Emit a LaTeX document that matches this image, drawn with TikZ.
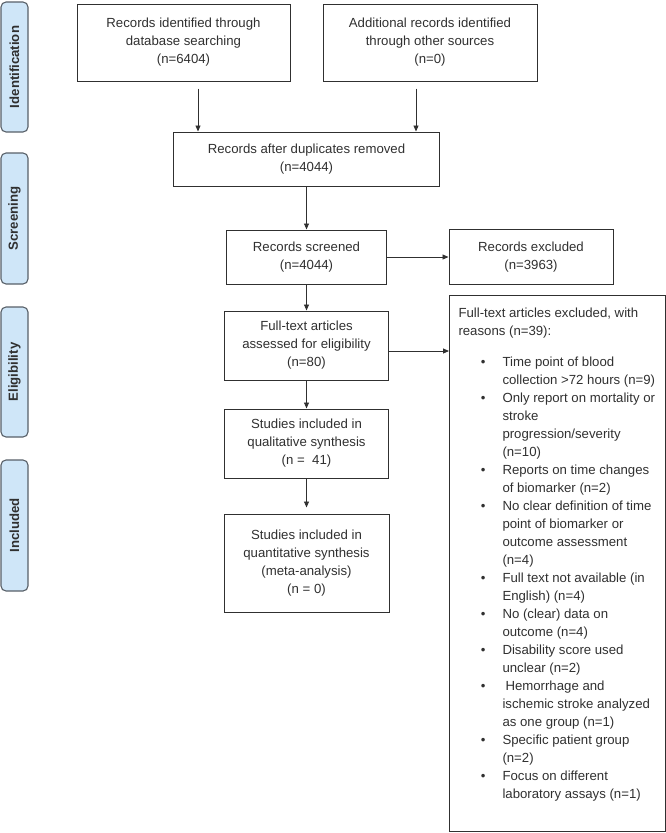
\documentclass[tikz,border=0pt]{standalone}
\usepackage{fontspec}
\setmainfont{Liberation Sans}
\usetikzlibrary{positioning, arrows.meta}

\definecolor{fasecol}{RGB}{207,230,248}
\definecolor{borde}{RGB}{88,96,104}
\definecolor{tinta}{RGB}{48,48,48}

\newenvironment{motivos}{\begin{list}{\textbullet}{%
	\setlength{\leftmargin}{44pt}\setlength{\labelwidth}{12pt}%
	\setlength{\labelsep}{17pt}\setlength{\itemsep}{0pt}%
	\setlength{\parsep}{0pt}\setlength{\topsep}{13pt}%
	\setlength{\partopsep}{0pt}}}{\end{list}}

\begin{document}
\begin{tikzpicture}[x=1pt, y=-1pt,
	caja/.style={draw=tinta, line width=1pt, align=center, text=tinta,
		font=\fontsize{13.2}{18}\selectfont, inner sep=0pt},
	lista/.style={draw=tinta, line width=1pt, text=tinta, anchor=north west,
		font=\fontsize{13.2}{18}\selectfont, inner xsep=9pt, inner ysep=12pt},
	fase/.style={draw=borde, fill=fasecol, rounded corners=5pt, line width=1.1pt,
		minimum height=27pt, rotate=90, text=tinta, inner sep=0pt,
		font=\bfseries\fontsize{13.2}{16}\selectfont},
	flecha/.style={-{Triangle[length=6pt,width=5pt]}, draw=tinta, line width=0.9pt}]
	\useasboundingbox (0,0) rectangle (666,833);

	% Fases
	\foreach \nombre/\y/\h in {Identification/67/130, Screening/218.5/131,
		Eligibility/372/130, Included/525.5/131} {
		\node[fase, minimum width=\h pt] (f-\nombre) at (14.5,\y) {\nombre};
	}

	% Cajas
	\node[caja, minimum width=213pt, minimum height=77pt] (busqueda) at (183.5,42.5)
		{Records identified through\\database searching\\(n=6404)};
	\node[caja, minimum width=214pt, minimum height=77pt] (otras) at (430,42.5)
		{Additional records identified\\through other sources\\(n=0)};
	\node[caja, minimum width=266pt, minimum height=54pt] (duplicados) at (306.5,159)
		{Records after duplicates removed\\(n=4044)};
	\node[caja, minimum width=160pt, minimum height=54pt] (cribado) at (306.5,257)
		{Records screened\\(n=4044)};
	\node[caja, minimum width=164pt, minimum height=55pt] (excluidos) at (531,257)
		{Records excluded\\(n=3963)};
	\node[caja, minimum width=164pt, minimum height=69pt] (texto) at (306.5,345.5)
		{Full-text articles\\assessed for eligibility\\(n=80)};
	\node[caja, minimum width=164pt, minimum height=69pt] (cualit) at (306.5,443.5)
		{Studies included in\\qualitative synthesis\\(n =\ \ 41)};
	\node[caja, minimum width=165pt, minimum height=98pt] (cuantit) at (306.5,563)
		{Studies included in\\quantitative synthesis\\(meta-analysis)\\(n = 0)};
	\node[lista] (razones) at (449,295) {\begin{minipage}[t][512pt][t]{198pt}\raggedright
		Full-text articles excluded, with\\
		reasons (n=39):
		\begin{motivos}
			\item Time point of blood\\collection >72 hours (n=9)
			\item Only report on mortality or\\stroke\\progression/severity\\(n=10)
			\item Reports on time changes\\of biomarker (n=2)
			\item No clear definition of time\\point of biomarker or\\outcome assessment\\(n=4)
			\item Full text not available (in\\English) (n=4)
			\item No (clear) data on\\outcome (n=4)
			\item Disability score used\\unclear (n=2)
			\item \hspace{3pt}Hemorrhage and\\ischemic stroke analyzed\\as one group (n=1)
			\item Specific patient group\\(n=2)
			\item Focus on different\\laboratory assays (n=1)
		\end{motivos}
	\end{minipage}};

	% Flechas
	\draw[flecha, shorten <=7pt] ([xshift=14.5pt]busqueda.south) -- ([xshift=14.5pt]busqueda.south |- duplicados.north);
	\draw[flecha, shorten <=7pt] ([xshift=-14pt]otras.south) -- ([xshift=-14pt]otras.south |- duplicados.north);
	\draw[flecha] (duplicados.south) -- (cribado.north);
	\draw[flecha] (cribado.east) -- (excluidos.west);
	\draw[flecha] (cribado.south) -- (texto.north);
	\draw[flecha] ([yshift=-5.5pt]texto.east) -- ([yshift=-5.5pt]texto.east -| razones.west);
	\draw[flecha] (texto.south) -- (cualit.north);
	\draw[flecha, shorten >=6pt] (cualit.south) -- (cuantit.north);

\end{tikzpicture}
\end{document}
